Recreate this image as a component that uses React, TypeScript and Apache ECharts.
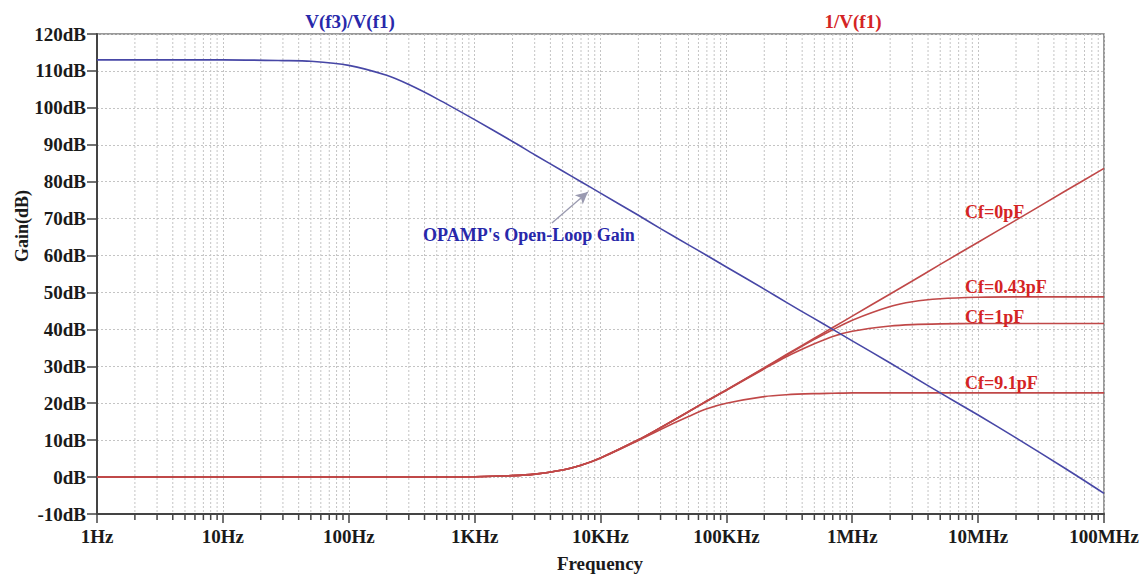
import React, { useEffect, useRef } from "react";
import * as echarts from "echarts";

const freqs = [1, 10, 30, 50, 100, 200, 300, 500, 1e3, 2e3, 3e3, 5e3, 7e3, 1e4, 2e4, 3e4, 5e4, 7e4, 1e5, 2e5, 3e5, 5e5, 7e5, 1e6, 2e6, 3e6, 5e6, 1e7, 2e7, 5e7, 1e8];

const openLoopGain = [113, 113, 112.8, 112.6, 111.5, 108.8, 106.3, 102.5, 96.8, 90.9, 87.3, 82.9, 80.0, 76.9, 70.9, 67.3, 62.9, 60.0, 56.9, 50.9, 47.3, 42.9, 40.0, 36.9, 30.9, 27.3, 22.8, 16.8, 10.6, 2.2, -4.4];
const cf0 = [0, 0, 0, 0, 0, 0, 0, 0.02, 0.1, 0.4, 0.8, 1.9, 3.2, 5.2, 10.1, 13.4, 17.7, 20.6, 23.6, 29.6, 33.2, 37.6, 40.5, 43.6, 49.6, 53.1, 57.6, 63.6, 69.6, 77.6, 83.6];
const cf043 = [0, 0, 0, 0, 0, 0, 0, 0.02, 0.1, 0.4, 0.8, 1.9, 3.2, 5.2, 10.1, 13.4, 17.7, 20.6, 23.6, 29.5, 33.0, 37.3, 39.9, 42.5, 46.2, 47.5, 48.3, 48.7, 48.8, 48.8, 48.8];
const cf1 = [0, 0, 0, 0, 0, 0, 0, 0.02, 0.1, 0.4, 0.8, 1.9, 3.2, 5.2, 10.1, 13.4, 17.7, 20.6, 23.5, 29.3, 32.6, 36.1, 38.1, 39.5, 40.9, 41.3, 41.5, 41.6, 41.6, 41.6, 41.6];
const cf91 = [0, 0, 0, 0, 0, 0, 0, 0.02, 0.1, 0.4, 0.8, 1.9, 3.2, 5.1, 9.9, 12.9, 16.4, 18.5, 20.0, 21.8, 22.3, 22.6, 22.7, 22.8, 22.8, 22.8, 22.8, 22.8, 22.8, 22.8, 22.8];

const xTickLabels = ["1Hz", "10Hz", "100Hz", "1KHz", "10KHz", "100KHz", "1MHz", "10MHz", "100MHz"];
const minorFreqs: number[] = [];
for (let k = 0; k < 8; k++) for (let m = 2; m <= 9; m++) minorFreqs.push(m * Math.pow(10, k));

const cfLabels = [
  { text: "Cf=0pF", f: 7.87e6, db: 71.7 },
  { text: "Cf=0.43pF", f: 7.87e6, db: 51.4 },
  { text: "Cf=1pF", f: 7.87e6, db: 43.3 },
  { text: "Cf=9.1pF", f: 7.87e6, db: 25.4 },
];

const FONT = "'Liberation Serif', 'Times New Roman', serif";
const BLUE = "#4747a6";
const RED = "#c04848";
const RED_TEXT = "#d42424";
const BLUE_TEXT = "#2828aa";
const GRID = "#c4c4c4";

function pairs(vals: number[]) {
  return freqs.map((f, i) => [f, vals[i]]);
}

export default function App() {
  const ref = useRef<HTMLDivElement>(null);
  useEffect(() => {
    if (!ref.current) return;
    const chart = echarts.init(ref.current, null, { renderer: "svg" });
    const redLine = (name: string, vals: number[], extra: any = {}) => ({
      name,
      type: "line",
      data: pairs(vals),
      showSymbol: false,
      smooth: 0.3,
      lineStyle: { color: RED, width: 1.6 },
      itemStyle: { color: RED },
      z: 3,
      ...extra,
    });
    chart.setOption({
      animation: false,
      backgroundColor: "#ffffff",
      grid: { left: 97, top: 34, width: 1007, height: 480, show: true, borderColor: "#7a7a7a", borderWidth: 1.5, backgroundColor: "transparent" },
      xAxis: {
        type: "log",
        logBase: 10,
        min: 1,
        max: 1e8,
        splitNumber: 8,
        axisLine: { show: true, onZero: false, lineStyle: { color: "#444", width: 2 } },
        axisTick: { show: true, length: 9, lineStyle: { color: "#444", width: 1.5 } },
        axisLabel: {
          margin: 13,
          fontFamily: FONT,
          fontWeight: "bold",
          fontSize: 19,
          color: "#1a1a1a",
          formatter: (v: number) => xTickLabels[Math.round(Math.log10(v))] ?? "",
        },
        splitLine: { show: true, lineStyle: { color: GRID, type: [2, 2], width: 1 } },
      },
      yAxis: {
        type: "value",
        min: -10,
        max: 120,
        interval: 10,
        axisLine: { show: true, onZero: false, lineStyle: { color: "#444", width: 2 } },
        axisTick: { show: true, length: 10, lineStyle: { color: "#444", width: 1.5 } },
        axisLabel: {
          margin: 11,
          fontFamily: FONT,
          fontWeight: "bold",
          fontSize: 19,
          color: "#1a1a1a",
          formatter: (v: number) => v + "dB",
        },
        splitLine: { show: true, lineStyle: { color: GRID, type: [2, 2], width: 1 } },
      },
      graphic: [
        { type: "text", x: 350, y: 21, style: { text: "V(f3)/V(f1)", fill: BLUE_TEXT, font: `bold 19px ${FONT}`, textAlign: "center", textVerticalAlign: "middle" } },
        { type: "text", x: 853, y: 21, style: { text: "1/V(f1)", fill: RED_TEXT, font: `bold 19px ${FONT}`, textAlign: "center", textVerticalAlign: "middle" } },
        { type: "text", x: 600, y: 563, style: { text: "Frequency", fill: "#1a1a1a", font: `bold 19px ${FONT}`, textAlign: "center", textVerticalAlign: "middle" } },
        { type: "text", x: 22, y: 226, rotation: Math.PI / 2, style: { text: "Gain(dB)", fill: "#1a1a1a", font: `bold 18px ${FONT}`, textAlign: "center", textVerticalAlign: "middle" } },
      ],
      series: [
        {
          type: "custom",
          data: minorFreqs.map((f) => [f, -10]),
          silent: true,
          z: 1,
          renderItem: (params: any, api: any) => {
            const f = api.value(0);
            const top = api.coord([f, 120]);
            const bot = api.coord([f, -10]);
            return {
              type: "group",
              children: [
                { type: "line", shape: { x1: bot[0], y1: top[1], x2: bot[0], y2: bot[1] }, style: { stroke: GRID, lineWidth: 1, lineDash: [2, 2] } },
                { type: "line", shape: { x1: bot[0], y1: bot[1], x2: bot[0], y2: bot[1] + 6 }, style: { stroke: "#444", lineWidth: 1.5 } },
              ],
            };
          },
        },
        redLine("Cf=9.1pF", cf91),
        redLine("Cf=1pF", cf1),
        redLine("Cf=0.43pF", cf043),
        redLine("Cf=0pF", cf0, {
          markPoint: {
            silent: true,
            symbol: "circle",
            symbolSize: 0,
            data: cfLabels.map((l) => ({
              coord: [l.f, l.db],
              label: { show: true, position: "right", distance: 0, formatter: l.text, color: RED_TEXT, fontFamily: FONT, fontWeight: "bold", fontSize: 18 },
            })),
          },
        }),
        {
          name: "Open-Loop",
          type: "line",
          data: pairs(openLoopGain),
          showSymbol: false,
          smooth: 0.3,
          lineStyle: { color: BLUE, width: 1.6 },
          itemStyle: { color: BLUE },
          z: 4,
          markPoint: {
            silent: true,
            symbol: "circle",
            symbolSize: 0,
            data: [
              {
                coord: [2700, 65.6],
                label: { show: true, position: "inside", formatter: "OPAMP's Open-Loop Gain", color: BLUE_TEXT, fontFamily: FONT, fontWeight: "bold", fontSize: 18 },
              },
            ],
          },
          markLine: {
            silent: true,
            symbol: ["none", "arrow"],
            symbolSize: [9, 12],
            label: { show: false },
            lineStyle: { color: "#9a9ab0", width: 1.3, type: "solid" },
            data: [[{ coord: [4110, 68.8] }, { coord: [7940, 77.2] }]],
          },
        },
      ],
    });
    return () => chart.dispose();
  }, []);
  return <div ref={ref} style={{ position: "absolute", left: 0, top: 0, width: 1146, height: 574 }} />;
}
